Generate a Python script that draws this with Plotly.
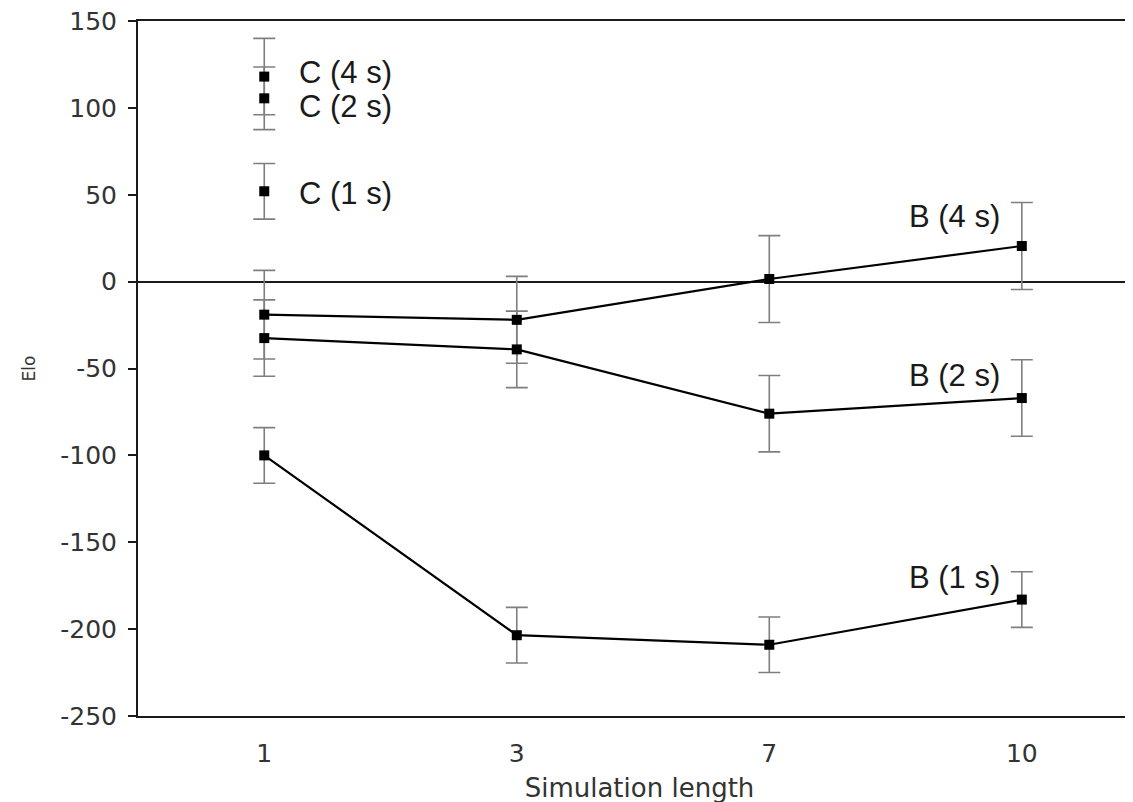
import plotly.graph_objects as go

# ---- data ----
sim_length = ["1", "3", "7", "10"]

b1_elo = [-100, -203.5, -209, -183]
b1_err = [16, 16, 16, 16]
b2_elo = [-32.5, -39, -76, -67]
b2_err = [22, 22, 22, 22]
b4_elo = [-19, -22, 1.5, 20.5]
b4_err = [25.5, 25, 25, 25]

c_labels = ["C (4 s)", "C (2 s)", "C (1 s)"]
c_elo = [118, 105.5, 52]
c_err = [22, 18, 16]

b_labels = ["B (4 s)", "B (2 s)", "B (1 s)"]
b_label_y = [37.5, -54, -170.5]
c_label_y = [120.5, 101, 51]

y_ticks = [-250, -200, -150, -100, -50, 0, 50, 100, 150]
y_tick_labels = ["-250", "-200", "-150", "-100", "-50", "0", "50", "100", "150"]

fig = go.Figure()

err_style = dict(type="data", visible=True, color="#7f7f7f", thickness=1.6, width=11)
marker_style = dict(symbol="square", size=10, color="black")

b_series = [(b1_elo, b1_err), (b2_elo, b2_err), (b4_elo, b4_err)]
c_x = [sim_length[0]] * len(c_elo)

# error bars + connecting lines first
for ys, es in b_series:
    fig.add_trace(go.Scatter(
        x=sim_length, y=ys, mode="lines",
        line=dict(color="black", width=2.2),
        error_y=dict(array=es, **err_style),
        showlegend=False, hoverinfo="skip",
    ))
fig.add_trace(go.Scatter(
    x=c_x, y=c_elo, mode="none",
    error_y=dict(array=c_err, **err_style),
    showlegend=False, hoverinfo="skip",
))

# markers on top
for ys, es in b_series:
    fig.add_trace(go.Scatter(x=sim_length, y=ys, mode="markers",
                             marker=marker_style, showlegend=False))
fig.add_trace(go.Scatter(x=c_x, y=c_elo, mode="markers",
                         marker=marker_style, showlegend=False))

label_font = dict(family="Liberation Sans, Arial, sans-serif", size=31, color="#1a1a1a")
first_idx = 0
last_idx = len(sim_length) - 1
for lab, yv in zip(c_labels, c_label_y):
    fig.add_annotation(x=first_idx, y=yv, text=lab, showarrow=False,
                       xanchor="left", yanchor="middle", xshift=33, font=label_font)
for lab, yv in zip(b_labels, b_label_y):
    fig.add_annotation(x=last_idx, y=yv, text=lab, showarrow=False,
                       xanchor="right", yanchor="middle", xshift=-20, font=label_font)

tick_font = dict(family="DejaVu Sans, Verdana, sans-serif", size=25, color="#333333")

fig.update_layout(
    width=1133, height=802,
    margin=dict(l=130, r=0, t=13, b=94, pad=0),
    plot_bgcolor="white", paper_bgcolor="white",
    xaxis=dict(
        type="category", range=[-0.5, 3.472], automargin=False,
        showline=True, linecolor="#1a1a1a", linewidth=2, mirror=True,
        ticks="", showgrid=False, zeroline=False,
        tickfont=tick_font, ticklabelstandoff=14,
        title=dict(text="Simulation length",
                   font=dict(family="DejaVu Sans, Verdana, sans-serif", size=26, color="#333333"),
                   standoff=12),
    ),
    yaxis=dict(
        range=[-250, 150], tickvals=y_ticks, ticktext=y_tick_labels, automargin=False,
        showline=True, linecolor="#1a1a1a", linewidth=2,
        ticks="outside", ticklen=8, tickwidth=2, tickcolor="#1a1a1a",
        showgrid=False, ticklabeloverflow="allow",
        zeroline=True, zerolinecolor="#1a1a1a", zerolinewidth=1.5,
        tickfont=tick_font, ticklabelstandoff=6,
        title=dict(text="Elo",
                   font=dict(family="DejaVu Sans, Verdana, sans-serif", size=17, color="#333333"),
                   standoff=20),
    ),
)

fig.write_html("out.html")
